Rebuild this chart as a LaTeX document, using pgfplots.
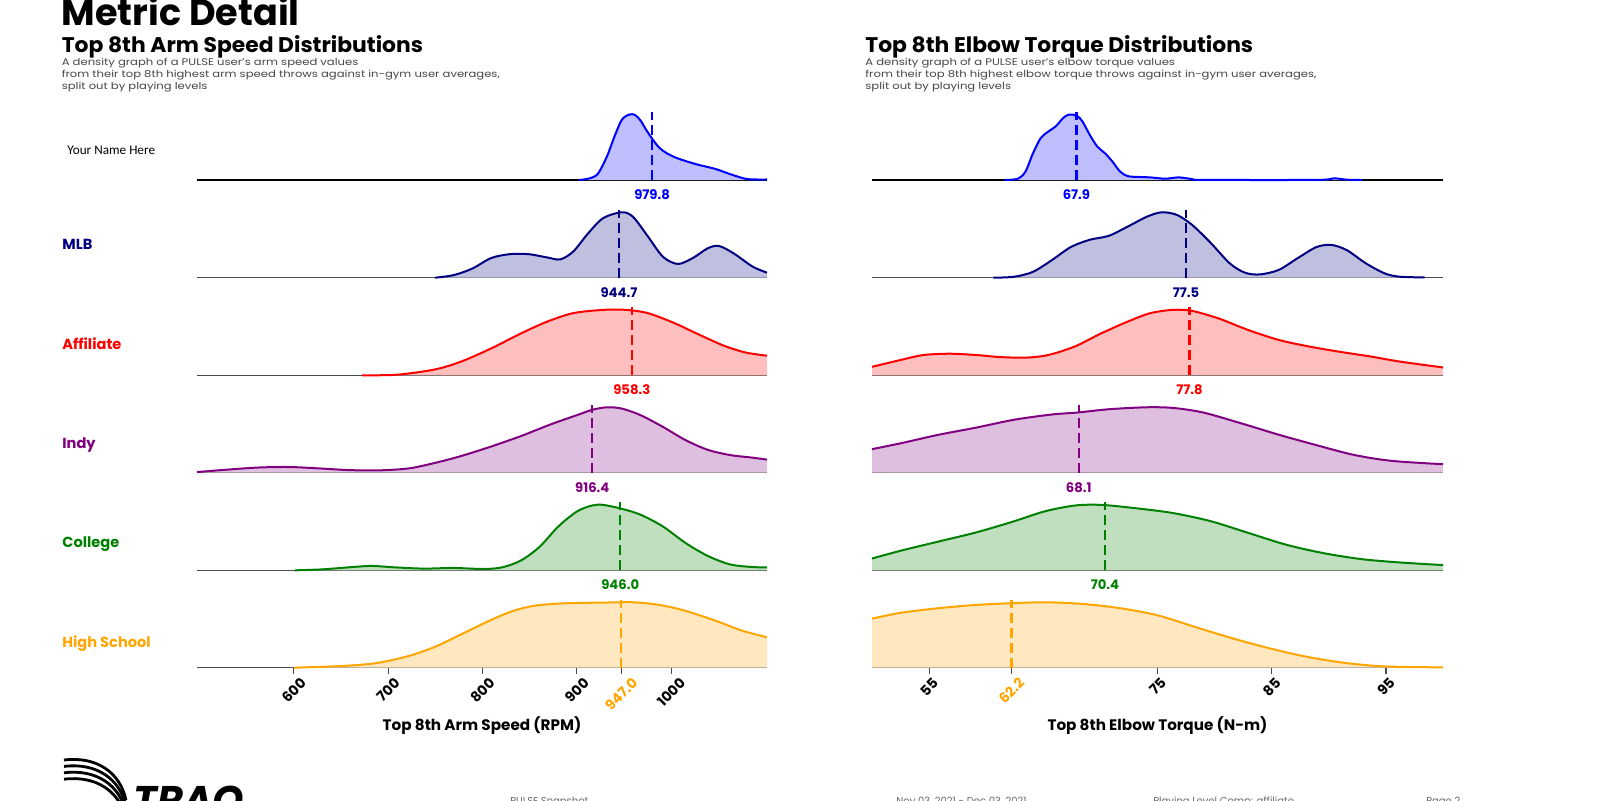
\documentclass[border=0pt]{standalone}
\usepackage{pgfplots}
\usepackage{pgfplotstable}
\pgfplotsset{compat=1.18}
\usetikzlibrary{calc}
\usepackage{graphicx}
\usepackage{fontspec}
\setmainfont{Poppins}
\newfontfamily\carlito{Carlito}
\definecolor{cblue}{RGB}{0,0,255}
\definecolor{cnavy}{RGB}{0,0,128}
\definecolor{cred}{RGB}{255,0,0}
\definecolor{cpurple}{RGB}{128,0,128}
\definecolor{cgreen}{RGB}{0,128,0}
\definecolor{corange}{RGB}{255,165,0}
\definecolor{desc}{RGB}{70,70,70}
\tikzset{vlab/.style={anchor=base, yshift=-9.8pt, text=#1, font=\bfseries\fontsize{6.6}{7}\selectfont}}
\pgfplotsset{
  ridge/.style={
    scale only axis, height=48.75pt,
    ymin=0, ymax=1.49, enlargelimits=false,
    axis x line=bottom, axis y line=none,
    axis line style={-, draw=black!70, line width=0.6pt},
    xtick=\empty, clip=false, anchor=south west,
  },
  leftax/.style={ridge, width=285pt, xmin=497.4, xmax=1101.6},
  rightax/.style={ridge, width=285.5pt, xmin=50, xmax=100},
  dfill/.style={draw=none, fill=#1!25, smooth, tension=0.5, no markers},
  dline/.style={draw=#1, line width=1pt, smooth, tension=0.5, no markers},
  meanl/.style={draw=#1, line width=1.2pt, dash pattern=on 5pt off 2.5pt, no markers},
  bottomax/.style={
    tick align=outside, major tick length=2.9pt,
    tick style={draw=black!70, line width=0.6pt},
    xticklabel style={anchor=north, inner sep=0pt, yshift=-1.5pt, font=\bfseries\fontsize{7}{8}\selectfont},
    extra x tick style={xticklabel style={text=corange}},
  },
}
\newcommand{\rl}[1]{\rotatebox{45}{#1}}
\newcommand{\dsc}[1]{\scalebox{1.21}[1]{#1}}

% ---- data: x, normalised density ----
\pgfplotstableread{
x y
902.2 0
912 0.02
922 0.09
931.9 0.36
939.8 0.66
947.7 0.92
955.6 1.0
961.6 0.995
967.5 0.91
973.4 0.77
979.4 0.64
987 0.5
995.2 0.41
1007 0.33
1026.9 0.24
1046.7 0.17
1062.5 0.09
1078.4 0.02
1090 0.008
1101.6 0.008
}\LYou
\pgfplotstableread{
x y
749.7 0
769.5 0.04
789.3 0.14
809.1 0.30
828.9 0.36
848.7 0.36
868.5 0.31
882.4 0.28
896.2 0.40
912.1 0.68
927.9 0.91
947.7 1.0
959.6 0.93
975.4 0.63
991.3 0.32
1007.1 0.21
1022.9 0.30
1038.8 0.45
1050.7 0.485
1066.5 0.37
1086.3 0.17
1101.6 0.077
}\LMLB
\pgfplotstableread{
x y
672.5 0
710.1 0.01
749.7 0.09
777.4 0.21
809.1 0.41
840.8 0.64
868.5 0.82
896.2 0.95
927.9 1.0
951.7 1.0
975.4 0.95
1003.1 0.80
1026.9 0.64
1054.6 0.46
1078.4 0.35
1101.6 0.30
}\LAff
\pgfplotstableread{
x y
497.4 0.01
531.9 0.05
563.6 0.08
595.3 0.087
626.9 0.066
658.6 0.04
690.3 0.036
722 0.066
749.7 0.15
777.4 0.255
809.1 0.40
840.8 0.56
872.5 0.74
900.2 0.88
916 0.96
931.9 1.0
947.7 0.98
967.5 0.88
991.3 0.70
1015 0.50
1038.8 0.35
1062.5 0.27
1086.3 0.23
1101.6 0.20
}\LIndy
\pgfplotstableread{
x y
601.2 0
630.9 0.015
658.6 0.046
682.4 0.067
706.1 0.046
737.8 0.026
769.5 0.036
801.2 0.02
821 0.046
840.8 0.15
860.6 0.36
880.4 0.67
900.2 0.90
916 0.99
927.9 1.0
947.7 0.94
967.5 0.85
991.3 0.67
1015 0.42
1038.8 0.22
1062.5 0.09
1086.3 0.05
1101.6 0.046
}\LCol
\pgfplotstableread{
x y
600 0
630.9 0.015
662.6 0.036
690.3 0.077
722 0.18
749.7 0.32
777.4 0.51
809.1 0.73
832.9 0.87
856.6 0.95
888.3 0.985
927.9 0.995
959.6 1.0
987.3 0.96
1015 0.87
1046.7 0.72
1074.4 0.57
1101.6 0.465
}\LHS
\pgfplotstableread{
x y
61.62 0
62.78 0.02
63.44 0.13
64.1 0.41
64.77 0.64
65.43 0.74
66.09 0.82
66.75 0.95
67.25 1.0
67.91 0.985
68.41 0.9
69.07 0.69
69.73 0.51
70.4 0.41
71.06 0.28
71.72 0.13
72.38 0.06
73.38 0.046
74.37 0.04
75.69 0.02
76.85 0.04
78.01 0.015
79.0 0.002
88.94 0.002
90.43 0.026
91.59 0.005
92.91 0
}\RYou
\pgfplotstableread{
x y
60.63 0
62.45 0.015
64.1 0.09
65.76 0.27
67.42 0.47
69.07 0.58
70.73 0.64
72.38 0.78
74.04 0.93
75.36 1.0
76.69 0.96
78.01 0.81
79.67 0.53
81.32 0.22
82.65 0.077
83.97 0.05
85.63 0.12
87.28 0.30
88.94 0.47
90.26 0.50
91.59 0.42
93.24 0.22
94.9 0.066
96.22 0.015
98.38 0.005
}\RMLB
\pgfplotstableread{
x y
50 0.13
52.52 0.235
54.5 0.31
56.82 0.33
59.14 0.31
61.13 0.28
63.44 0.27
65.43 0.31
67.75 0.44
70.06 0.64
72.38 0.82
74.37 0.95
76.36 1.0
78.01 0.985
80.33 0.87
82.98 0.69
85.63 0.54
88.28 0.44
90.93 0.36
93.57 0.29
96.22 0.21
100 0.12
}\RAff
\pgfplotstableread{
x y
50 0.36
52.52 0.45
55.83 0.58
59.14 0.69
62.45 0.81
65.76 0.89
68.01 0.92
70.73 0.97
74.04 1.0
76.36 0.99
79.0 0.92
82.32 0.755
85.63 0.58
88.94 0.42
92.25 0.27
95.56 0.18
100 0.13
}\RIndy
\pgfplotstableread{
x y
50 0.18
52.52 0.30
55.83 0.44
59.14 0.58
62.45 0.75
65.1 0.90
67.75 0.99
70.06 1.0
73.04 0.95
76.36 0.875
79.67 0.75
82.98 0.57
86.29 0.39
89.6 0.26
92.91 0.17
96.22 0.12
100 0.08
}\RCol
\pgfplotstableread{
x y
50 0.75
52.52 0.84
55.83 0.91
59.14 0.96
62.12 0.985
65.1 1.0
68.41 0.975
71.72 0.91
75.03 0.80
78.34 0.62
81.65 0.445
84.96 0.29
88.28 0.16
91.59 0.07
94.9 0.02
100 0.005
}\RHS

\begin{document}
\begin{tikzpicture}
\useasboundingbox (0,0) rectangle (800pt,-400pt);
% titles
\node[anchor=base west, inner sep=0, font=\bfseries\fontsize{18.3}{20}\selectfont] at (30.7pt,-12.8pt) {Metric Detail};
\node[anchor=base west, inner sep=0, font=\bfseries\fontsize{10.6}{12}\selectfont] at (30.7pt,-26.3pt) {\scalebox{1.03}[1]{Top 8th Arm Speed Distributions}};
\node[anchor=base west, inner sep=0, text=desc, font=\fontsize{4.8}{6}\selectfont] at (30.7pt,-32.7pt) {\dsc{A density graph of a PULSE user’s arm speed values}};
\node[anchor=base west, inner sep=0, text=desc, font=\fontsize{4.8}{6}\selectfont] at (30.7pt,-38.7pt) {\dsc{from their top 8th highest arm speed throws against in-gym user averages,}};
\node[anchor=base west, inner sep=0, text=desc, font=\fontsize{4.8}{6}\selectfont] at (30.7pt,-44.8pt) {\dsc{split out by playing levels}};
\node[anchor=base west, inner sep=0, font=\bfseries\fontsize{10.6}{12}\selectfont] at (432.5pt,-26.3pt) {\scalebox{1.03}[1]{Top 8th Elbow Torque Distributions}};
\node[anchor=base west, inner sep=0, text=desc, font=\fontsize{4.8}{6}\selectfont] at (432.5pt,-32.7pt) {\dsc{A density graph of a PULSE user’s elbow torque values}};
\node[anchor=base west, inner sep=0, text=desc, font=\fontsize{4.8}{6}\selectfont] at (432.5pt,-38.7pt) {\dsc{from their top 8th highest elbow torque throws against in-gym user averages,}};
\node[anchor=base west, inner sep=0, text=desc, font=\fontsize{4.8}{6}\selectfont] at (432.5pt,-44.8pt) {\dsc{split out by playing levels}};
% row labels
\node[anchor=base west, inner sep=0, font=\carlito\fontsize{6.6}{7}\selectfont] at (33.5pt,-77.1pt) {Your Name Here};
\node[anchor=base west, inner sep=0, text=cnavy, font=\bfseries\fontsize{7.3}{8}\selectfont] at (31pt,-124.95pt) {MLB};
\node[anchor=base west, inner sep=0, text=cred, font=\bfseries\fontsize{7.3}{8}\selectfont] at (31pt,-174.65pt) {Affiliate};
\node[anchor=base west, inner sep=0, text=cpurple, font=\bfseries\fontsize{7.3}{8}\selectfont] at (31pt,-224.25pt) {Indy};
\node[anchor=base west, inner sep=0, text=cgreen, font=\bfseries\fontsize{7.3}{8}\selectfont] at (31pt,-273.8pt) {College};
\node[anchor=base west, inner sep=0, text=corange, font=\bfseries\fontsize{7.3}{8}\selectfont] at (31pt,-323.55pt) {High School};

% ===== LEFT COLUMN =====
\begin{axis}[leftax, at={(98.5pt,-90pt)}, axis line style={-, draw=black, line width=0.6pt}]
\addplot[dfill=cblue] table {\LYou} \closedcycle;
\addplot[dline=cblue] table {\LYou};
\addplot[meanl=cblue] coordinates {(979.8,0) (979.8,1.04)};
\node[vlab=cblue] at (axis cs:979.8,0) {979.8};
\end{axis}
\begin{axis}[leftax, at={(98.5pt,-138.85pt)}]
\addplot[dfill=cnavy] table {\LMLB} \closedcycle;
\addplot[dline=cnavy] table {\LMLB};
\addplot[meanl=cnavy] coordinates {(944.7,0) (944.7,1.04)};
\node[vlab=cnavy] at (axis cs:944.7,0) {944.7};
\end{axis}
\begin{axis}[leftax, at={(98.5pt,-187.65pt)}]
\addplot[dfill=cred] table {\LAff} \closedcycle;
\addplot[dline=cred] table {\LAff};
\addplot[meanl=cred] coordinates {(958.3,0) (958.3,1.04)};
\node[vlab=cred] at (axis cs:958.3,0) {958.3};
\end{axis}
\begin{axis}[leftax, at={(98.5pt,-236.35pt)}]
\addplot[dfill=cpurple] table {\LIndy} \closedcycle;
\addplot[dline=cpurple] table {\LIndy};
\addplot[meanl=cpurple] coordinates {(916.4,0) (916.4,1.04)};
\node[vlab=cpurple] at (axis cs:916.4,0) {916.4};
\end{axis}
\begin{axis}[leftax, at={(98.5pt,-285.15pt)}]
\addplot[dfill=cgreen] table {\LCol} \closedcycle;
\addplot[dline=cgreen] table {\LCol};
\addplot[meanl=cgreen] coordinates {(946.0,0) (946.0,1.04)};
\node[vlab=cgreen] at (axis cs:946.0,0) {946.0};
\end{axis}
\begin{axis}[leftax, bottomax, at={(98.5pt,-333.85pt)},
  xtick={600,700,800,900,1000},
  xticklabels={\rl{600},\rl{700},\rl{800},\rl{900},\rl{1000}},
  extra x ticks={947.0}, extra x tick labels={\rl{947.0}}]
\addplot[dfill=corange] table {\LHS} \closedcycle;
\addplot[dline=corange] table {\LHS};
\addplot[meanl=corange] coordinates {(947.0,0) (947.0,1.04)};
\end{axis}

% ===== RIGHT COLUMN =====
\begin{axis}[rightax, at={(436pt,-90pt)}, axis line style={-, draw=black, line width=0.6pt}]
\addplot[dfill=cblue] table {\RYou} \closedcycle;
\addplot[dline=cblue] table {\RYou};
\addplot[meanl=cblue] coordinates {(67.9,0) (67.9,1.04)};
\node[vlab=cblue] at (axis cs:67.9,0) {67.9};
\end{axis}
\begin{axis}[rightax, at={(436pt,-138.85pt)}]
\addplot[dfill=cnavy] table {\RMLB} \closedcycle;
\addplot[dline=cnavy] table {\RMLB};
\addplot[meanl=cnavy] coordinates {(77.5,0) (77.5,1.04)};
\node[vlab=cnavy] at (axis cs:77.5,0) {77.5};
\end{axis}
\begin{axis}[rightax, at={(436pt,-187.65pt)}]
\addplot[dfill=cred] table {\RAff} \closedcycle;
\addplot[dline=cred] table {\RAff};
\addplot[meanl=cred] coordinates {(77.8,0) (77.8,1.04)};
\node[vlab=cred] at (axis cs:77.8,0) {77.8};
\end{axis}
\begin{axis}[rightax, at={(436pt,-236.35pt)}]
\addplot[dfill=cpurple] table {\RIndy} \closedcycle;
\addplot[dline=cpurple] table {\RIndy};
\addplot[meanl=cpurple] coordinates {(68.1,0) (68.1,1.04)};
\node[vlab=cpurple] at (axis cs:68.1,0) {68.1};
\end{axis}
\begin{axis}[rightax, at={(436pt,-285.15pt)}]
\addplot[dfill=cgreen] table {\RCol} \closedcycle;
\addplot[dline=cgreen] table {\RCol};
\addplot[meanl=cgreen] coordinates {(70.4,0) (70.4,1.04)};
\node[vlab=cgreen] at (axis cs:70.4,0) {70.4};
\end{axis}
\begin{axis}[rightax, bottomax, at={(436pt,-333.85pt)},
  xtick={55,75,85,95},
  xticklabels={\rl{55},\rl{75},\rl{85},\rl{95}},
  extra x ticks={62.2}, extra x tick labels={\rl{62.2}}]
\addplot[dfill=corange] table {\RHS} \closedcycle;
\addplot[dline=corange] table {\RHS};
\addplot[meanl=corange] coordinates {(62.2,0) (62.2,1.04)};
\end{axis}

% axis labels
\node[anchor=base, inner sep=0, font=\bfseries\fontsize{7.6}{8}\selectfont] at (241pt,-365.45pt) {Top 8th Arm Speed (RPM)};
\node[anchor=base, inner sep=0, font=\bfseries\fontsize{7.6}{8}\selectfont] at (578.75pt,-365.45pt) {Top 8th Elbow Torque (N-m)};

% footer
\foreach \k in {0,1,2,3}{
  \draw[line width=1.4pt] ($(32pt,-380pt)+(0,-3.2*\k pt)$) .. controls ($(48pt,-378pt)+(0,-3.2*\k pt)$) and ($(60pt,-386pt)+(0,-3.2*\k pt)$) .. ($(63pt,-400pt)+(0,-3.2*\k pt)$);
}
\node[anchor=base west, inner sep=0, font=\bfseries\itshape\fontsize{20}{24}\selectfont] at (66.5pt,-407pt) {TRAQ};
\node[anchor=north west, inner sep=0, text=black!60, font=\fontsize{5}{6}\selectfont] at (255pt,-398.3pt) {PULSE Snapshot};
\node[anchor=north west, inner sep=0, text=black!60, font=\fontsize{5}{6}\selectfont] at (448pt,-398.3pt) {Nov 03, 2021 - Dec 03, 2021};
\node[anchor=north west, inner sep=0, text=black!60, font=\fontsize{5}{6}\selectfont] at (576.5pt,-398.3pt) {Playing Level Comp: affiliate};
\node[anchor=north west, inner sep=0, text=black!60, font=\fontsize{5}{6}\selectfont] at (713pt,-398.3pt) {Page 2};
\end{tikzpicture}
\end{document}
